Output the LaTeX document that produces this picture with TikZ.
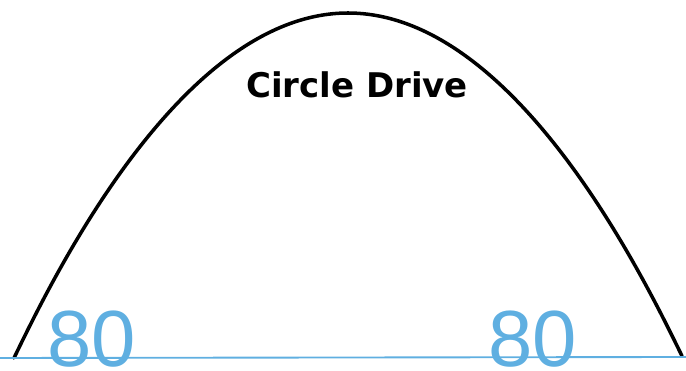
\documentclass[tikz,border=0pt]{standalone}
\usepackage{fontspec}
\newfontfamily\roadfont{DejaVu Sans}
\newfontfamily\penfont{Liberation Sans}
\definecolor{Pen}{RGB}{95,175,225}
\tikzset{
  road/.style={line width=3pt,line cap=round},
  penline/.style={Pen,line width=1.6pt},
  penmark/.style={Pen,font=\penfont\fontsize{68}{68}\selectfont,inner sep=0pt}
}
\begin{document}
\begin{tikzpicture}[x=0.03cm,y=-0.03cm]
    \useasboundingbox (0,0) rectangle (686,371);
    \coordinate (footL) at (14,358);
    \coordinate (crest) at (348,13);
    \coordinate (footR) at (682,356);
    \coordinate (baseL) at (0,358);
    \coordinate (baseR) at (686,357);
    \draw[road] (footL) parabola bend (crest) (footR);
    \draw[penline] (baseL)--(baseR);
    \node[font=\roadfont\bfseries\fontsize{29}{29}\selectfont] (name) at (357,85) {Circle Drive};
    \node[penmark] (lenL) at (92,339) {80};
    \node[penmark] (lenR) at (533,339) {80};
  \end{tikzpicture}
\end{document}
